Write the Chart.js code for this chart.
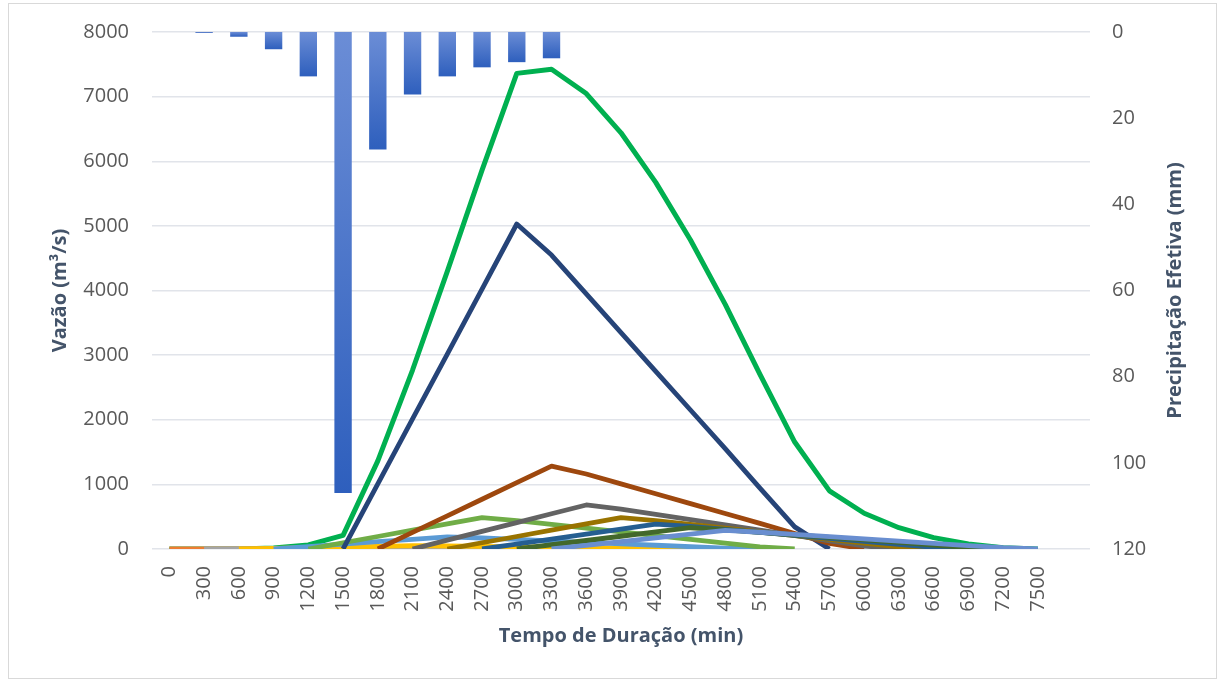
<!DOCTYPE html>
<html lang="pt-BR">
<head>
<meta charset="utf-8">
<title>Hidrograma de cheia</title>
<script src="https://cdn.jsdelivr.net/npm/chart.js@4.4.1/dist/chart.umd.min.js"></script>
<style>
  html, body { margin: 0; padding: 0; background: #fff; }
  #moldura { position: absolute; left: 8px; top: 3px; width: 1209px; height: 676px; border: 1px solid #d9d9d9; box-sizing: border-box; }
  #area { position: absolute; left: 0; top: 0; width: 1219px; height: 681px; }
</style>
</head>
<body>
<div id="moldura"></div>
<div id="area"><canvas id="grafico"></canvas></div>
<script>
// intervalos de 300 min (a última categoria fica sem rótulo)
const tempos = ['0', '300', '600', '900', '1200', '1500', '1800', '2100', '2400', '2700', '3000',
  '3300', '3600', '3900', '4200', '4500', '4800', '5100', '5400', '5700', '6000', '6300',
  '6600', '6900', '7200', '7500', ''];

// precipitação efetiva por intervalo (mm)
const precipEfetiva = [0, 0.2, 1.1, 4.0, 10.3, 107, 27.3, 14.5, 10.3, 8.2, 7.0, 6.1,
  null, null, null, null, null, null, null, null, null, null, null, null, null, null, null];

// hidrogramas parciais (m³/s), um para cada pulso de chuva
const qPulso0 = [0, 0, 0, 0, 0, 0, 0, 0, 0, 0, 0, 0, 0, 0, 0,
  null, null, null, null, null, null, null, null, null, null, null, null];
const qPulso300 = [null, 0, 1.9, 3.8, 5.6, 7.5, 9.4, 8.5, 7.4, 6.3, 5.1, 4.0, 2.9, 1.8, 0.6, 0,
  null, null, null, null, null, null, null, null, null, null, null];
const qPulso600 = [null, null, 0, 10.3, 20.7, 31.0, 41.4, 51.7, 46.8, 40.6, 34.4, 28.3, 22.1, 16.0, 9.7, 3.5, 0,
  null, null, null, null, null, null, null, null, null, null];
const qPulso900 = [null, null, null, 0, 37.6, 75.2, 112.8, 150.4, 188, 170, 147.6, 125.2, 102.8, 80.4, 58, 35.2, 12.8, 0,
  null, null, null, null, null, null, null, null, null];
const qPulso1200 = [null, null, null, null, 0, 96.8, 193.6, 290.5, 387.3, 484.1, 437.8, 380.1, 322.4, 264.7, 207.0, 149.4, 90.6, 33.0, 0,
  null, null, null, null, null, null, null, null];
const qPulso1500 = [null, null, null, null, null, 0, 1006, 2012, 3017, 4023, 5029, 4548, 3948, 3349, 2750, 2151, 1552, 942, 342, 0,
  null, null, null, null, null, null, null];
const qPulso1800 = [null, null, null, null, null, null, 0, 256.6, 513.2, 769.9, 1026.5, 1283.1, 1160.3, 1007.4, 854.5, 701.6, 548.7, 395.9, 240.2, 87.4, 0,
  null, null, null, null, null, null];
const qPulso2100 = [null, null, null, null, null, null, null, 0, 136.3, 272.6, 408.9, 545.2, 681.5, 616.3, 535.1, 453.9, 372.7, 291.5, 210.3, 127.6, 46.4, 0,
  null, null, null, null, null];
const qPulso2400 = [null, null, null, null, null, null, null, null, 0, 96.8, 193.6, 290.5, 387.3, 484.1, 437.8, 380.1, 322.4, 264.7, 207.0, 149.4, 90.6, 33.0, 0,
  null, null, null, null];
const qPulso2700 = [null, null, null, null, null, null, null, null, null, 0, 77.1, 154.2, 231.2, 308.3, 385.4, 348.5, 302.6, 256.7, 210.7, 164.8, 118.9, 72.2, 26.2, 0,
  null, null, null];
const qPulso3000 = [null, null, null, null, null, null, null, null, null, null, 0, 65.8, 131.6, 197.4, 263.2, 329, 297.5, 258.3, 219.1, 179.9, 140.7, 101.5, 61.6, 22.4, 0,
  null, null];
const qPulso3300 = [null, null, null, null, null, null, null, null, null, null, null, 0, 57.3, 114.7, 172.0, 229.4, 286.7, 259.3, 225.1, 190.9, 156.8, 122.6, 88.5, 53.7, 19.5, 0,
  null];

// hidrograma resultante (soma dos parciais)
const qTotal = [0, 0, 1.9, 14.1, 63.9, 210.5, 1363.0, 2769.3, 4296.4, 5863.5, 7360.0, 7423.9, 7047.7,
  6440.2, 5673.2, 4781.3, 3785.5, 2701.0, 1654.8, 900.0, 553.4, 329.3, 176.3, 76.1, 19.5, 0, null];

const parciais = [
  [qPulso0, '#ED7D31'],
  [qPulso300, '#A5A5A5'],
  [qPulso600, '#FFC000'],
  [qPulso900, '#5B9BD5'],
  [qPulso1200, '#70AD47'],
  [qPulso1500, '#264478'],
  [qPulso1800, '#9E480E'],
  [qPulso2100, '#636363'],
  [qPulso2400, '#997300'],
  [qPulso2700, '#255E91'],
  [qPulso3000, '#43682B'],
  [qPulso3300, '#698ED0']
];

const fonte = "'Open Sans', sans-serif";
const corTexto = '#595959';
const corTitulo = '#44546A';
const tamTick = 20;
const tamTitulo = 20;

// degradê de cada barra: mais claro no topo, mais escuro na ponta
function corBarra(ctx) {
  const chart = ctx.chart;
  const escala = chart.scales.yPrecip;
  if (!chart.chartArea || ctx.raw == null || !escala) return '#4472C4';
  const y0 = escala.getPixelForValue(0);
  const y1 = escala.getPixelForValue(ctx.raw);
  if (y1 - y0 < 2) return '#3F6AC4';
  const g = chart.ctx.createLinearGradient(0, y0, 0, y1);
  g.addColorStop(0, '#6B8DD6');
  g.addColorStop(1, '#2E5FBD');
  return g;
}

// eixos verticais com largura fixa e sem folga extra em cima/embaixo
function larguraFixa(largura) {
  return escala => {
    escala.width = largura;
    escala.paddingTop = 0;
    escala.paddingBottom = 0;
  };
}

// título do eixo direito, lido de baixo para cima
const tituloDireito = {
  id: 'tituloDireito',
  afterDraw(chart) {
    const { ctx, chartArea } = chart;
    const escala = chart.scales.yPrecip;
    ctx.save();
    ctx.translate(escala.right - 44, (chartArea.top + chartArea.bottom) / 2);
    ctx.rotate(-Math.PI / 2);
    ctx.font = 'bold ' + tamTitulo + 'px ' + fonte;
    ctx.fillStyle = corTitulo;
    ctx.textAlign = 'center';
    ctx.textBaseline = 'middle';
    ctx.fillText('Precipitação Efetiva (mm)', 0, 0);
    ctx.restore();
  }
};

const datasets = [{
  type: 'bar',
  label: 'Precipitação Efetiva',
  data: precipEfetiva,
  yAxisID: 'yPrecip',
  backgroundColor: corBarra,
  borderWidth: 0,
  barPercentage: 0.5,
  categoryPercentage: 1,
  order: 100
}, {
  type: 'line',
  label: 'Hidrograma Total',
  data: qTotal,
  yAxisID: 'yVazao',
  borderColor: '#00B050',
  borderWidth: 5,
  pointRadius: 0,
  tension: 0,
  borderJoinStyle: 'round',
  order: 50
}];

parciais.forEach(([serie, cor], i) => {
  datasets.push({
    type: 'line',
    label: 'Pulso ' + tempos[i],
    data: serie,
    yAxisID: 'yVazao',
    borderColor: cor,
    borderWidth: 4.8,
    pointRadius: 0,
    tension: 0,
    borderJoinStyle: 'round',
    order: 40 - i
  });
});

new Chart(document.getElementById('grafico'), {
  data: { labels: tempos, datasets },
  options: {
    responsive: true,
    maintainAspectRatio: false,
    animation: false,
    devicePixelRatio: 1,
    layout: { padding: { top: 32, left: 0, right: 0, bottom: 0 } },
    plugins: {
      legend: { display: false },
      tooltip: { enabled: false }
    },
    scales: {
      x: {
        type: 'category',
        grid: { display: false, drawTicks: false },
        border: { display: false },
        ticks: {
          autoSkip: false,
          minRotation: 90,
          maxRotation: 90,
          padding: 17,
          color: corTexto,
          font: { family: fonte, size: tamTick }
        },
        title: {
          display: true,
          text: 'Tempo de Duração (min)',
          color: corTitulo,
          font: { family: fonte, size: tamTitulo, weight: 'bold' },
          padding: { top: 0, bottom: 33 }
        },
        afterFit(escala) { escala.height = 132; }
      },
      yVazao: {
        position: 'left',
        min: 0,
        max: 8000,
        ticks: {
          stepSize: 1000,
          padding: 23,
          color: corTexto,
          format: { useGrouping: false },
          font: { family: fonte, size: tamTick }
        },
        grid: { color: '#E1E4EA', lineWidth: 1.5, drawTicks: false },
        border: { display: false },
        title: {
          display: true,
          text: 'Vazão (m³/s)',
          color: corTitulo,
          font: { family: fonte, size: tamTitulo, weight: 'bold' },
          padding: { top: 48, bottom: 0 }
        },
        afterFit: larguraFixa(152)
      },
      yPrecip: {
        position: 'right',
        reverse: true,
        min: 0,
        max: 120,
        ticks: {
          stepSize: 20,
          padding: 22,
          color: corTexto,
          font: { family: fonte, size: tamTick }
        },
        grid: { display: false, drawTicks: false },
        border: { display: false },
        afterFit: larguraFixa(129)
      }
    }
  },
  plugins: [tituloDireito]
});
</script>
</body>
</html>
